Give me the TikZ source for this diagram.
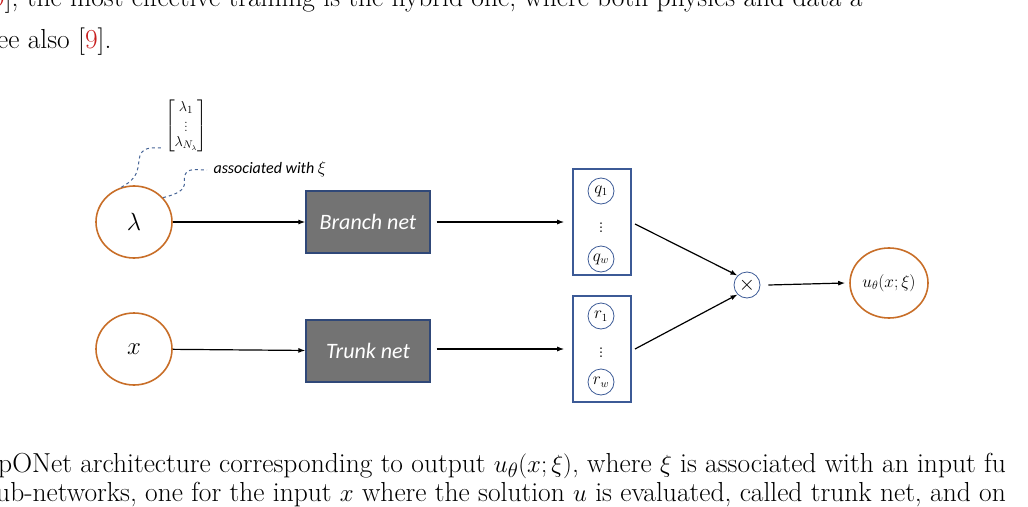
\documentclass[tikz,border=0pt]{standalone}
\usepackage{fontspec}
\usepackage{amsmath}
\newfontfamily\carl{Carlito}
\usetikzlibrary{arrows.meta,shapes.geometric}
\definecolor{orng}{RGB}{200,110,40}
\definecolor{bbox}{RGB}{60,90,150}
\definecolor{dash}{RGB}{70,100,150}
\definecolor{refred}{RGB}{200,30,30}
\begin{document}
\begin{tikzpicture}[x=1pt,y=-1pt,
  net/.style={draw=bbox!80!black,line width=1.2pt,fill=black!55,minimum width=124pt,minimum height=62pt,text=white,font=\carl\itshape\fontsize{22}{22}\selectfont},
  vec/.style={draw=bbox,line width=1.6pt,minimum width=58pt,minimum height=106pt},
  unit/.style={draw=bbox,circle,line width=0.8pt,minimum size=26pt,inner sep=0pt,font=\fontsize{16}{16}\selectfont},
  arr/.style={-{Latex[length=7pt,width=5pt]},line width=1.2pt},
  dsh/.style={draw=dash,dashed,line width=1pt},
  body/.style={anchor=base west,inner sep=0,font=\fontsize{27.5}{27.5}\selectfont}]
\useasboundingbox (0,0) rectangle (1028,506);
\clip (0,0) rectangle (1028,506);
\node[body] (t1) at (-8,6) {{\color{refred}9}], the most effective training is the hybrid one, where both physics and data a};
\node[body] (t2) at (-3,48) {ee also [{\color{refred}9}].};
\node[body] (t3) at (-2,472) {pONet architecture corresponding to output $u_\theta(x;\xi)$, where $\xi$ is associated with an input fu};
\node[body] (t4) at (-4,501) {ub-networks, one for the input $x$ where the solution $u$ is evaluated, called trunk net, and on};

\node[draw=orng,line width=1.6pt,ellipse,minimum width=76pt,minimum height=72pt,font=\fontsize{27}{27}\selectfont] (lam) at (134,222) {$\lambda$};
\node[draw=orng,line width=1.6pt,ellipse,minimum width=76pt,minimum height=72pt,font=\fontsize{27}{27}\selectfont] (x) at (134,349) {$x$};
\node[net] (br) at (368,222) {Branch net};
\node[net] (tr) at (368,351) {Trunk net};
\node[vec] (qb) at (602,222) {};
\node[vec] (rb) at (602,349) {};
\node[unit] (q1) at (601,191) {$q_1$};
\node[unit] (qw) at (601,259) {$q_w$};
\node[unit] (r1) at (601,316) {$r_1$};
\node[unit] (rw) at (601,382) {$r_w$};
\node[font=\fontsize{20}{20}\selectfont,inner sep=0pt] (qd) at (601,225) {$\vdots$};
\node[font=\fontsize{20}{20}\selectfont,inner sep=0pt] (rd) at (601,350) {$\vdots$};
\node[unit,font=\sffamily\fontsize{20}{20}\selectfont] (mul) at (747,285) {$\times$};
\node[draw=orng,line width=1.6pt,ellipse,minimum width=78pt,minimum height=70pt,inner sep=0pt,font=\fontsize{18}{18}\selectfont] (out) at (889,283) {$u_\theta(x;\xi)$};
\node[font=\fontsize{15}{15}\selectfont,inner sep=0pt] (vecl) at (186,126) {$\begin{bmatrix}\lambda_1\\ \vdots\\ \lambda_{N_\lambda}\end{bmatrix}$};
\node[anchor=west,font=\carl\itshape\fontsize{16}{16}\selectfont] (assoc) at (210,169) {associated with $\xi$};
\coordinate (d1) at (163,148);
\coordinate (d2) at (207,170);

\draw[arr] (lam) -- (br);
\draw[arr] (x) -- (tr);
\draw[arr] ([xshift=6pt]br.east) -- ([xshift=-8pt]qb.west);
\draw[arr] ([xshift=6pt]tr.east |- rb.west) -- ([xshift=-8pt]rb.west);
\draw[arr] (635,224) -- (mul.north west);
\draw[arr] (635,349) -- (mul.south west);
\draw[arr] ([xshift=8pt]mul.east) -- ([xshift=-4pt]out.west);
\draw[dsh] (lam.110) .. controls (145,175) and (135,160) .. (142,152) .. controls (148,146) and (155,148) .. (d1);
\draw[dsh] (lam.40) .. controls (195,190) and (180,180) .. (186,173) .. controls (190,168) and (198,170) .. (d2);
\end{tikzpicture}
\end{document}
